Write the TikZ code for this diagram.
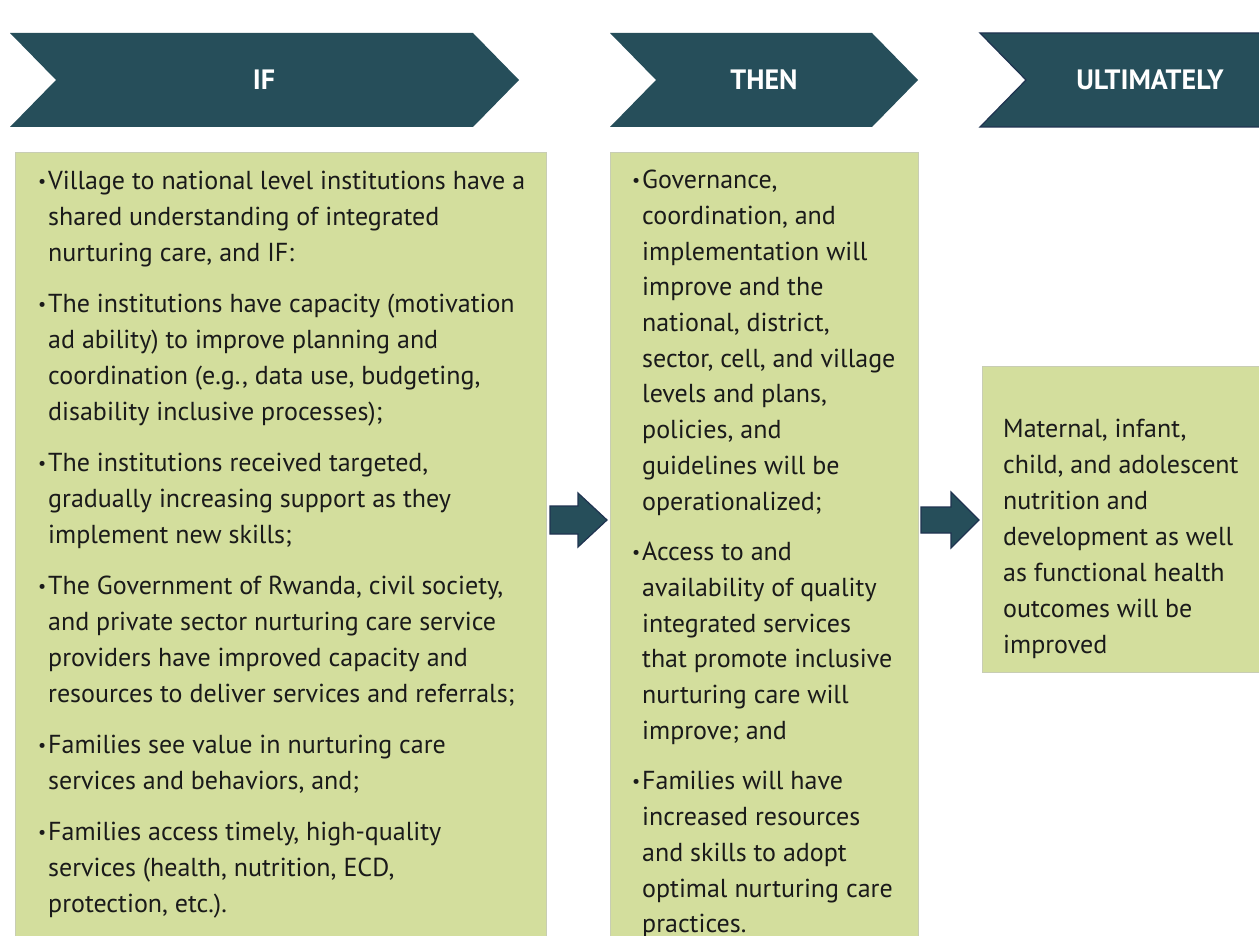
\documentclass[tikz,border=0pt]{standalone}
\usepackage{fontspec}
\setmainfont{PT Sans}
\definecolor{chevfill}{HTML}{264E5A}
\definecolor{chevline}{HTML}{1F3350}
\definecolor{boxfill}{HTML}{D3DE9D}
\definecolor{boxline}{HTML}{C8CDB4}
\definecolor{ink}{HTML}{1A1A1A}
\newcommand{\bul}{\makebox[10pt][l]{\raisebox{2pt}{\fontsize{18}{18}\selectfont\textbullet}}}
\newcommand{\ind}{\hspace*{10pt}}
\tikzset{
  chev/.style={fill=chevfill},
  head/.style={text=white, font=\fontsize{28}{32}\selectfont\bfseries, inner sep=0pt},
  gbox/.style={draw=boxline, line width=0.8pt, fill=boxfill, anchor=north west, inner sep=0pt},
  body/.style={text=ink, align=left, anchor=north west, inner sep=0pt, font=\fontsize{26}{36}\selectfont},
  blockarrow/.style={fill=chevfill, draw=chevline, line width=1.2pt, line join=miter}
}
\begin{document}
\begin{tikzpicture}[x=1pt,y=-1pt]
\useasboundingbox (0,0) rectangle (1259,936);
\clip (0,0) rectangle (1259,936);

% header chevrons
\fill[chev] (10,33) -- (473,33) -- (519,80) -- (473,127) -- (10,127) -- (56,80) -- cycle;
\node[head] (hif) at (264,80) {IF};
\fill[chev] (610,33) -- (872,33) -- (918,80) -- (872,127) -- (610,127) -- (656,80) -- cycle;
\node[head] (hthen) at (764,80) {THEN};
\filldraw[chev, draw=chevline, line width=1.2pt] (1270,33) -- (980,33) -- (1026,80) -- (980,127) -- (1270,127);
\node[head] (hult) at (1150,80) {ULTIMATELY};

% content boxes
\node[gbox, minimum width=531pt, minimum height=820pt] (ifbox) at (15,152) {};
\node[gbox, minimum width=308pt, minimum height=820pt] (thenbox) at (610,152) {};
\node[gbox, minimum width=300pt, minimum height=306pt] (ultbox) at (982,366) {};

% texts
\node[body] (iftext) at (38,171) {%
\bul Village to national level institutions have a\\
\ind shared understanding of integrated\\
\ind nurturing care, and IF:\\[15pt]
\bul The institutions have capacity (motivation\\
\ind ad ability) to improve planning and\\
\ind coordination (e.g., data use, budgeting,\\
\ind disability inclusive processes);\\[15pt]
\bul The institutions received targeted,\\
\ind gradually increasing support as they\\
\ind implement new skills;\\[15pt]
\bul The Government of Rwanda, civil society,\\
\ind and private sector nurturing care service\\
\ind providers have improved capacity and\\
\ind resources to deliver services and referrals;\\[15pt]
\bul Families see value in nurturing care\\
\ind services and behaviors, and;\\[15pt]
\bul Families access timely, high-quality\\
\ind services (health, nutrition, ECD,\\
\ind protection, etc.).};

\node[body, font=\fontsize{26}{35.7}\selectfont] (thentext) at (632,170) {%
\bul Governance,\\
\ind coordination, and\\
\ind implementation will\\
\ind improve and the\\
\ind national, district,\\
\ind sector, cell, and village\\
\ind levels and plans,\\
\ind policies, and\\
\ind guidelines will be\\
\ind operationalized;\\[15pt]
\bul Access to and\\
\ind availability of quality\\
\ind integrated services\\
\ind that promote inclusive\\
\ind nurturing care will\\
\ind improve; and\\[15pt]
\bul Families will have\\
\ind increased resources\\
\ind and skills to adopt\\
\ind optimal nurturing care\\
\ind practices.};

\node[body] (ulttext) at (1003,419) {%
Maternal, infant,\\
child, and adolescent\\
nutrition and\\
development as well\\
as functional health\\
outcomes will be\\
improved};

% block arrows between columns
\filldraw[blockarrow] (550,506) -- (578,506) -- (578,493) -- (607,520) -- (578,547) -- (578,534) -- (550,534) -- cycle;
\filldraw[blockarrow] (921,507) -- (951,507) -- (951,492) -- (979,520) -- (951,548) -- (951,533) -- (921,533) -- cycle;
\end{tikzpicture}
\end{document}
